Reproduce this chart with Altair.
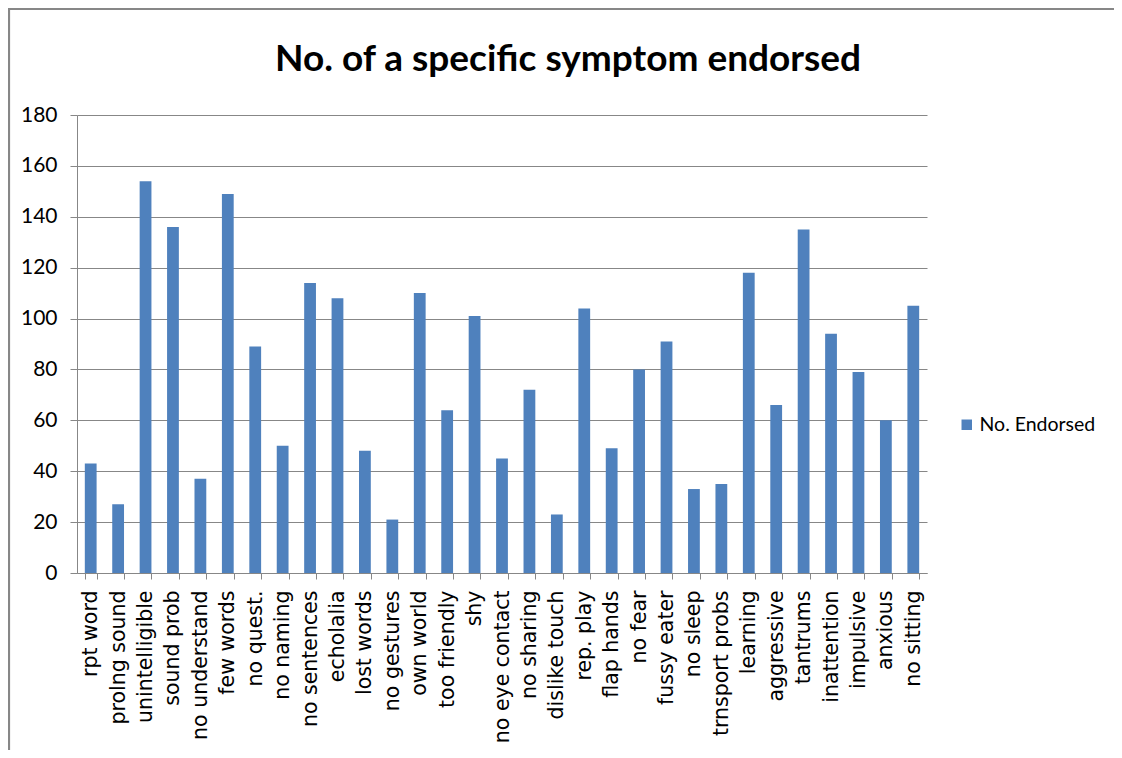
import altair as alt
import pandas as pd

categories = [
    "rpt word", "prolng sound", "unintelligible", "sound prob", "no understand",
    "few words", "no quest.", "no naming", "no sentences", "echolalia",
    "lost words", "no gestures", "own world", "too friendly", "shy",
    "no eye contact", "no sharing", "dislike touch", "rep. play", "flap hands",
    "no fear", "fussy eater", "no sleep", "trnsport probs", "learning",
    "aggressive", "tantrums", "inattention", "impulsive", "anxious", "no sitting",
]
values = [
    43, 27, 154, 136, 37,
    149, 89, 50, 114, 108,
    48, 21, 110, 64, 101,
    45, 72, 23, 104, 49,
    80, 91, 33, 35, 118,
    66, 135, 94, 79, 60, 105,
]
series_name = "No. Endorsed"
y_ticks = [0, 20, 40, 60, 80, 100, 120, 140, 160, 180]
title_text = "No. of a specific symptom endorsed"

df = pd.DataFrame({
    "symptom": categories,
    "count": values,
    "series": [series_name] * len(categories),
})

GRAY = "#878787"
BLUE = "#4F81BD"
FONT = "Lato, sans-serif"
W, H = 850, 458
PL, PT = 69, 107
PR, PB = 1106 - PL - W, 742 - PT - H

bars = alt.Chart(df).mark_bar().encode(
    x=alt.X(
        "symptom:N",
        sort=categories,
        scale=alt.Scale(paddingInner=0.57, paddingOuter=0.285),
        axis=alt.Axis(
            title=None,
            labelAngle=-90,
            labelAlign="right",
            labelBaseline="middle",
            labelFont="DejaVu Sans",
            labelFontSize=20.5,
            labelColor="#000000",
            labelPadding=11,
            tickBand="extent",
            tickSize=6,
            tickColor=GRAY,
            domainColor=GRAY,
            grid=False,
            labelOverlap=False,
        ),
    ),
    y=alt.Y(
        "count:Q",
        scale=alt.Scale(domain=[0, 180], nice=False),
        axis=alt.Axis(
            title=None,
            values=y_ticks,
            labelFont=FONT,
            labelFontSize=21,
            labelColor="#000000",
            labelPadding=13,
            tickSize=7,
            tickColor=GRAY,
            domainColor=GRAY,
            gridColor=GRAY,
            gridOpacity=1,
        ),
    ),
    color=alt.Color(
        "series:N",
        scale=alt.Scale(range=[BLUE]),
        legend=alt.Legend(
            title=None,
            orient="none",
            legendX=880,
            legendY=300,
            symbolType="square",
            symbolSize=110,
            symbolStrokeWidth=0,
            labelFont=FONT,
            labelFontSize=19.5,
            labelColor="#000000",
            labelOffset=3,
            padding=0,
        ),
    ),
)

frame_df = pd.DataFrame({"k": [0]})
left_line = alt.Chart(frame_df).mark_rule(color=GRAY, strokeWidth=2.2).encode(
    x=alt.value(-68), y=alt.value(-106), y2=alt.value(H + PB)
)
top_line = alt.Chart(frame_df).mark_rule(color=GRAY, strokeWidth=2.2).encode(
    x=alt.value(-69), x2=alt.value(W + PR), y=alt.value(-106)
)

chart = alt.layer(bars, left_line, top_line).properties(
    width=W,
    height=H,
    autosize=alt.AutoSizeParams(type="none"),
    padding={"left": PL, "top": PT, "right": PR, "bottom": PB},
    title=alt.TitleParams(
        text=title_text,
        font=FONT,
        fontSize=37,
        fontWeight="bold",
        color="#000000",
        anchor="middle",
        dx=66,
        offset=-71,
    ),
).configure_view(stroke=None).configure_axis(domainWidth=1, gridWidth=1, tickWidth=1)

chart.save("out.html", embed_options={"renderer": "svg", "actions": False})
